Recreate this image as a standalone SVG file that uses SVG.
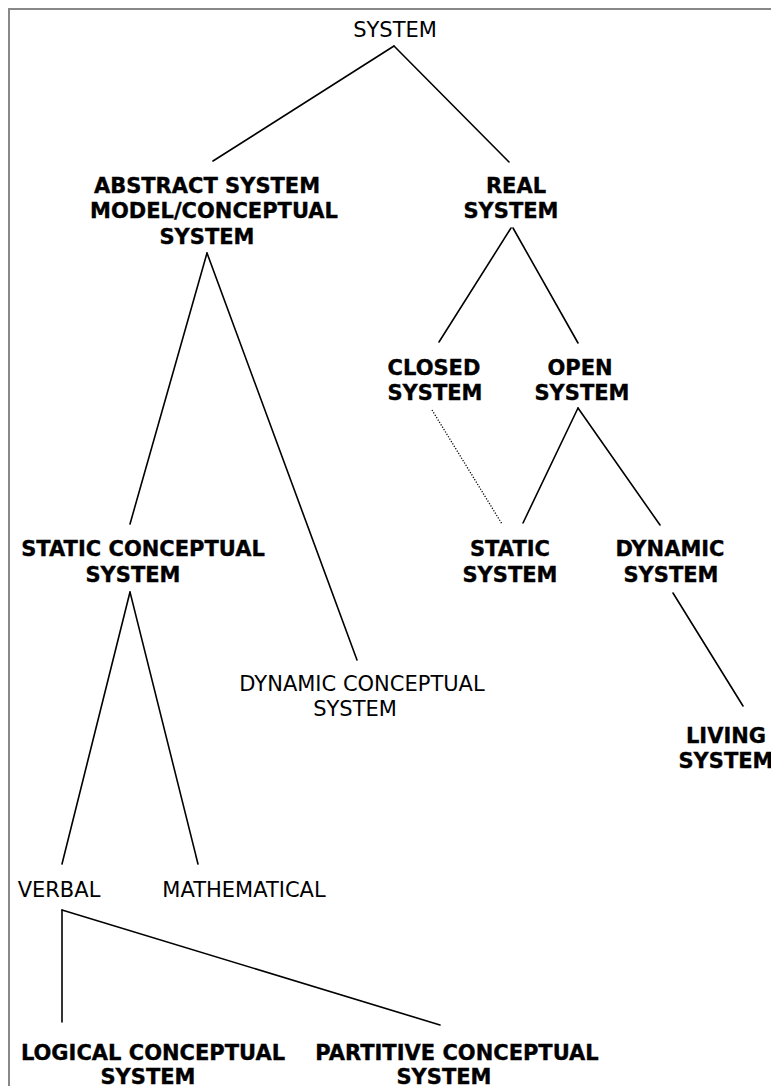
<svg xmlns="http://www.w3.org/2000/svg" width="771" height="1086" viewBox="0 0 771 1086">
  <style>
    text { font-family: "DejaVu Sans", Verdana, sans-serif; font-size: 21px; fill: #000; text-anchor: middle; }
    .b { font-weight: bold; stroke: #000; stroke-width: 0.35; }
    .edge { stroke: #000; stroke-width: 1.6; fill: none; stroke-linecap: round; }
    .dot { stroke: #000; stroke-width: 1.3; fill: none; stroke-dasharray: 1.2 1.6; }
    .frame { stroke: #888; stroke-width: 2; fill: none; }
  </style>
  <rect width="771" height="1086" fill="#fff"/>
  <path class="frame" d="M9 1090 V9 H780"/>

  <g id="connectors">
    <line class="edge" x1="394" y1="46" x2="213" y2="161"/>
    <line class="edge" x1="394" y1="46" x2="509" y2="162"/>
    <line class="edge" x1="207" y1="253" x2="130" y2="524"/>
    <line class="edge" x1="207" y1="253" x2="357" y2="660"/>
    <line class="edge" x1="511" y1="228" x2="439" y2="342"/>
    <line class="edge" x1="513" y1="228" x2="578" y2="343"/>
    <line class="dot" x1="432" y1="410" x2="502" y2="524"/>
    <line class="edge" x1="578" y1="408" x2="523" y2="523"/>
    <line class="edge" x1="578" y1="408" x2="660" y2="525"/>
    <line class="edge" x1="673" y1="593" x2="743" y2="706"/>
    <line class="edge" x1="130" y1="592" x2="62" y2="864"/>
    <line class="edge" x1="130" y1="592" x2="198" y2="864"/>
    <line class="edge" x1="62" y1="910" x2="62" y2="1022"/>
    <line class="edge" x1="62" y1="910" x2="440" y2="1025"/>
  </g>

  <g id="n-system"><text x="395" y="37">SYSTEM</text></g>
  <g id="n-abstract">
    <text class="b" x="207" y="193">ABSTRACT SYSTEM</text>
    <text class="b" x="214" y="218">MODEL/CONCEPTUAL</text>
    <text class="b" x="207" y="244">SYSTEM</text>
  </g>
  <g id="n-real">
    <text class="b" x="516" y="193">REAL</text>
    <text class="b" x="511" y="218">SYSTEM</text>
  </g>
  <g id="n-closed">
    <text class="b" x="434" y="375">CLOSED</text>
    <text class="b" x="435" y="400">SYSTEM</text>
  </g>
  <g id="n-open">
    <text class="b" x="580" y="375">OPEN</text>
    <text class="b" x="582" y="400">SYSTEM</text>
  </g>
  <g id="n-static-conceptual">
    <text class="b" x="143" y="556">STATIC CONCEPTUAL</text>
    <text class="b" x="133" y="582">SYSTEM</text>
  </g>
  <g id="n-dynamic-conceptual">
    <text x="362" y="691">DYNAMIC CONCEPTUAL</text>
    <text x="355" y="716">SYSTEM</text>
  </g>
  <g id="n-static">
    <text class="b" x="510" y="556">STATIC</text>
    <text class="b" x="510" y="582">SYSTEM</text>
  </g>
  <g id="n-dynamic">
    <text class="b" x="670" y="556">DYNAMIC</text>
    <text class="b" x="671" y="582">SYSTEM</text>
  </g>
  <g id="n-living">
    <text class="b" x="726" y="743">LIVING</text>
    <text class="b" x="726" y="768">SYSTEM</text>
  </g>
  <g id="n-verbal"><text x="59" y="897">VERBAL</text></g>
  <g id="n-mathematical"><text x="244" y="897">MATHEMATICAL</text></g>
  <g id="n-logical">
    <text class="b" x="153" y="1060">LOGICAL CONCEPTUAL</text>
    <text class="b" x="148" y="1084">SYSTEM</text>
  </g>
  <g id="n-partitive">
    <text class="b" x="457" y="1060">PARTITIVE CONCEPTUAL</text>
    <text class="b" x="444" y="1084">SYSTEM</text>
  </g>
</svg>
